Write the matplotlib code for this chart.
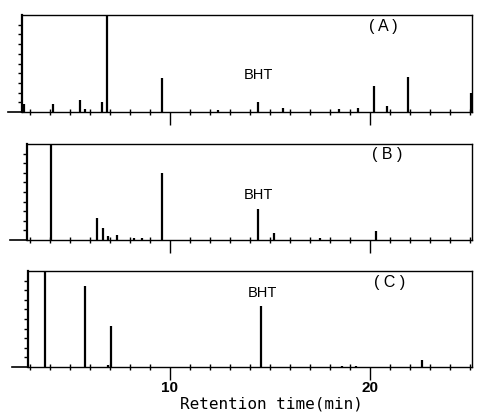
import matplotlib
matplotlib.use("Agg")
import matplotlib.pyplot as plt
import matplotlib.ticker as mticker
import numpy as np

# ── peak tables: retention time (min) / height (% of full scale, >100 = off scale)
rt_a = [2.7, 4.15, 5.5, 5.75, 6.6, 6.85, 9.6, 12.4, 14.4, 15.65, 18.45, 19.4, 20.2, 20.85, 21.9, 25.05]
h_a  = [8,   8,    12,  3,    10,  110,  35,  2,    10,   4,     3,     4,    27,   6,     36,   20]

rt_b = [4.05, 6.35, 6.65, 6.9, 7.35, 8.2, 8.6, 9.6, 14.4, 15.2, 17.5, 20.3]
h_b  = [110,  23,   12,   4,   5,    2,   2,   70,  32,   7,    2,    9]

rt_c = [3.75, 5.75, 6.9, 7.05, 14.55, 18.6, 19.3, 22.6]
h_c  = [110,  84,   2,   43,   64,    1.5,  1.5,  7]

bht_rt  = [14.4, 14.4, 14.6]
labels  = ["( A )", "( B )", "( C )"]

# panel frames in pixels (left, top, baseline) on a 478x412 canvas
W, H = 478, 412
frames = [(22, 15, 112), (27, 144, 240), (28, 271, 367)]
axis_start = [1.9, 2.0, 2.1]      # where the baseline line begins (min)
X_RIGHT = 25.1
PX_PER_MIN, X10 = 20.0, 170.0

fig = plt.figure(figsize=(W / 100, H / 100), dpi=100)

data = [(rt_a, h_a), (rt_b, h_b), (rt_c, h_c)]
tag_pos = [(20.65, 88), (20.85, 89), (21.0, 87.5)]
bht_y = [38, 47, 77]

for i, ((rt, h), (lpx, tpx, bpx)) in enumerate(zip(data, frames)):
    rpx = X10 + (X_RIGHT - 10) * PX_PER_MIN
    ax = fig.add_axes([lpx / W, (H - bpx) / H, (rpx - lpx) / W, (bpx - tpx) / H])
    x_left = 10 + (lpx - X10) / PX_PER_MIN
    ax.set_xlim(x_left, X_RIGHT)
    ax.set_ylim(0, 100)

    ax.vlines(rt, 0, h, color="black", linewidth=1.6)
    ax.plot([axis_start[i], x_left], [0, 0], color="black", linewidth=1.2, clip_on=False)

    for side in ["top", "right", "bottom"]:
        ax.spines[side].set_linewidth(1.0)
    ax.spines["left"].set_linewidth(1.6)

    ax.set_yticks(np.arange(10, 100, 10))
    ax.tick_params(axis="y", direction="out", length=3, width=1, labelleft=False)
    ax.set_xticks([10, 20])
    ax.xaxis.set_minor_locator(mticker.MultipleLocator(1))
    ax.tick_params(axis="x", which="major", direction="out", length=9, width=1, pad=1)
    ax.tick_params(axis="x", which="minor", direction="inout", length=4, width=1)
    if i < 2:
        ax.tick_params(axis="x", labelbottom=False)
    else:
        ax.set_xticklabels(["10", "20"], fontsize=11, fontweight="bold",
                           family="Liberation Sans")

    ax.text(bht_rt[i], bht_y[i], "BHT", ha="center", va="center",
            fontsize=10.5, family="Liberation Sans")
    ax.text(tag_pos[i][0], tag_pos[i][1], labels[i], ha="center", va="center",
            fontsize=11.5, family="Liberation Sans")

fig.text(271 / W, 1 - 404 / H, "Retention time(min)", ha="center", va="center",
         fontsize=11.5, family="DejaVu Sans Mono")

fig.savefig("out.png", dpi=100)
